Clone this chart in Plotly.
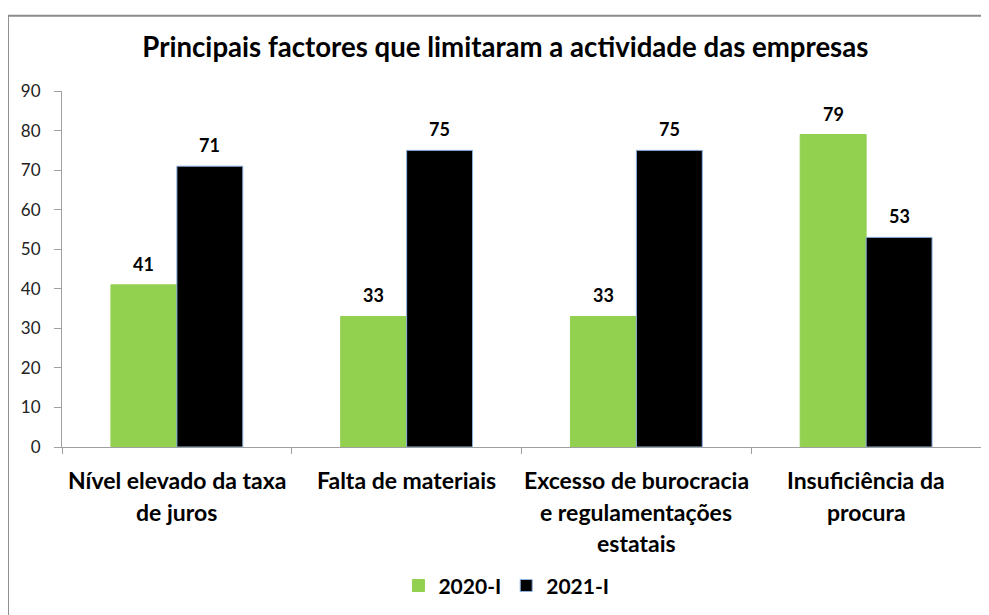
import plotly.graph_objects as go

categories = ["Nível elevado da taxa<br>de juros", "Falta de materiais",
              "Excesso de burocracia<br>e regulamentações<br>estatais",
              "Insuficiência da<br>procura"]
series_names = ["2020-I", "2021-I"]
values_2020 = [41, 33, 33, 79]
values_2021 = [71, 75, 75, 53]
y_ticks = [0, 10, 20, 30, 40, 50, 60, 70, 80, 90]

FONT = "Lato"
BARGAP = 0.426
colors = ["#92D050", "#000000"]
lines = ["#92D050", "#8DB4E2"]

fig = go.Figure()
for name, vals, c, lc in zip(series_names, [values_2020, values_2021], colors, lines):
    fig.add_trace(go.Bar(
        name=name, x=list(range(len(categories))), y=vals,
        marker=dict(color=c, line=dict(color=lc, width=1)),
    ))

annotations = []
bw = (1 - BARGAP) / 2
for si, vals in enumerate([values_2020, values_2021]):
    off = (-1 if si == 0 else 1) * bw / 2
    for i, v in enumerate(vals):
        annotations.append(dict(
            x=i + off, y=v, xref="x", yref="y", text=str(v), showarrow=False,
            yanchor="bottom", yshift=8,
            font=dict(family=FONT, size=18, color="#000000", weight="bold")))

for i, cat in enumerate(categories):
    for j, line in enumerate(cat.split("<br>")):
        annotations.append(dict(
            x=i, y=0, xref="x", yref="paper", text=line, showarrow=False,
            yanchor="middle", yshift=-(33 + 31.5 * j),
            font=dict(family=FONT, size=23, color="#000000", weight="bold")))

fig.update_layout(
    width=981, height=607,
    margin=dict(l=54, r=8, t=83, b=165),
    paper_bgcolor="white", plot_bgcolor="white",
    barmode="group", bargap=BARGAP, bargroupgap=0,
    title=dict(text="Principais factores que limitaram a actividade das empresas",
               x=0.507, xanchor="center", y=0.935, yanchor="middle",
               font=dict(family=FONT, size=27.6, color="#000000", weight="bold")),
    xaxis=dict(range=[-0.5, 3.5], tickmode="array", tickvals=[-0.5, 0.5, 1.5, 2.5, 3.5],
               ticktext=["", "", "", "", ""], ticks="outside", ticklen=6,
               tickcolor="#A0A0A0", showline=True, linecolor="#A0A0A0", linewidth=1,
               showgrid=False, zeroline=False),
    yaxis=dict(range=[0, 90], tickvals=y_ticks, ticks="outside", ticklen=7,
               tickcolor="#A0A0A0", showline=True, linecolor="#A0A0A0", linewidth=1,
               showgrid=False, zeroline=False, ticklabelstandoff=10,
               tickfont=dict(family=FONT, size=17, color="#222222")),
    legend=dict(orientation="h", x=0.4836, xanchor="center", y=-0.39, yanchor="middle",
                font=dict(family=FONT, size=21, color="#000000", weight="bold"),
                itemwidth=30, tracegroupgap=0),
    annotations=annotations,
    showlegend=True,
    shapes=[dict(type="path", xref="paper", yref="paper",
                 path="M -0.0588,-0.5 L -0.0588,1.2117 L 1.02,1.2117",
                 line=dict(color="#8C8C8C", width=2))],
)

fig.write_html("out.html")
